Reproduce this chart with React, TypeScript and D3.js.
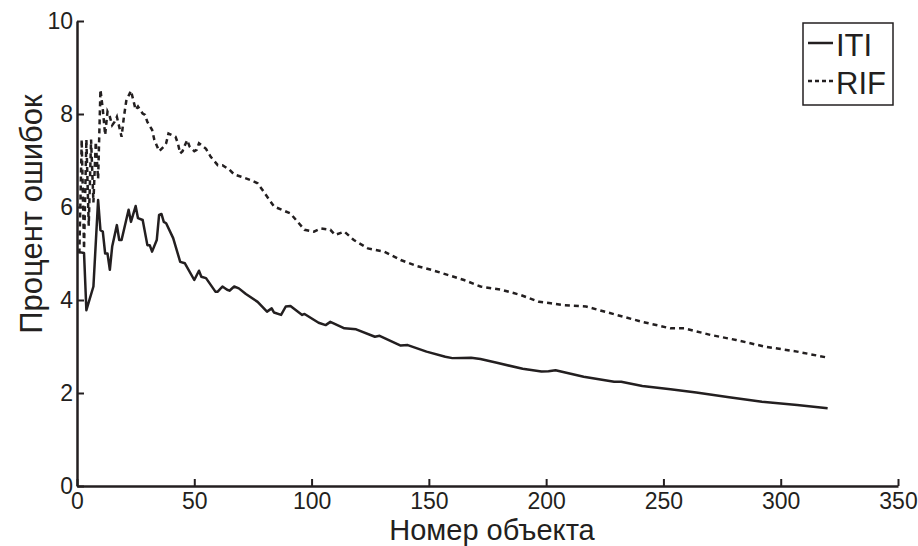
import React, { useEffect, useRef } from 'react';
import * as d3 from 'd3';

// ITI (solid) — object number / error percent
const itiX = [1, 3, 4, 7, 9, 10, 11, 12, 13, 14, 15, 17, 18, 19, 22, 23, 25, 26, 28, 30, 31, 32, 34, 35, 36, 37, 38, 41, 44, 46, 50, 52, 53, 55, 59, 60, 62, 64, 65, 67, 69, 72, 77, 81, 83, 84, 87, 89, 91, 96, 97, 103, 106, 108, 111, 114, 119, 127, 129, 138, 141, 149, 157, 160, 168, 172, 179, 190, 198, 201, 204, 216, 229, 232, 241, 253, 264, 278, 292, 307, 320];
const itiY = [5.03, 5.01, 3.78, 4.29, 6.15, 5.5, 5.47, 5.0, 5.0, 4.65, 5.15, 5.61, 5.29, 5.29, 5.94, 5.68, 6.02, 5.76, 5.72, 5.18, 5.18, 5.04, 5.29, 5.83, 5.85, 5.68, 5.65, 5.33, 4.82, 4.79, 4.43, 4.63, 4.5, 4.47, 4.18, 4.18, 4.29, 4.22, 4.2, 4.29, 4.25, 4.13, 3.96, 3.75, 3.82, 3.73, 3.68, 3.86, 3.87, 3.68, 3.7, 3.51, 3.46, 3.53, 3.46, 3.39, 3.37, 3.21, 3.23, 3.02, 3.03, 2.89, 2.78, 2.75, 2.76, 2.73, 2.65, 2.52, 2.46, 2.47, 2.49, 2.35, 2.24, 2.24, 2.15, 2.08, 2.01, 1.91, 1.81, 1.74, 1.67];

// RIF (dashed)
const rifX = [1, 2, 3, 4, 5, 6, 7, 8, 9, 10, 11, 12, 13, 14, 15, 16, 17, 19, 20, 21, 23, 24, 25, 26, 28, 29, 30, 32, 33, 35, 37, 38, 39, 42, 43, 44, 45, 46, 47, 48, 50, 51, 52, 53, 55, 57, 60, 62, 65, 67, 70, 74, 77, 79, 84, 91, 97, 101, 104, 108, 110, 114, 118, 124, 131, 138, 145, 151, 158, 165, 172, 181, 189, 197, 202, 207, 217, 230, 241, 253, 259, 270, 281, 293, 307, 320];
const rifY = [5.0, 7.45, 5.1, 7.45, 5.6, 7.45, 6.1, 7.4, 6.6, 8.52, 8.1, 7.55, 8.05, 7.94, 7.76, 7.83, 7.94, 7.51, 7.94, 8.28, 8.5, 8.3, 8.09, 8.16, 8.01, 7.98, 7.83, 7.66, 7.44, 7.2, 7.3, 7.37, 7.58, 7.51, 7.37, 7.15, 7.2, 7.33, 7.44, 7.3, 7.2, 7.23, 7.37, 7.33, 7.25, 7.08, 6.9, 6.9, 6.8, 6.7, 6.65, 6.58, 6.51, 6.37, 6.01, 5.86, 5.51, 5.47, 5.54, 5.51, 5.4, 5.47, 5.29, 5.11, 5.04, 4.86, 4.73, 4.65, 4.54, 4.43, 4.29, 4.22, 4.11, 3.96, 3.93, 3.89, 3.86, 3.68, 3.53, 3.39, 3.39, 3.25, 3.14, 3.0, 2.89, 2.76];

const xTicks = [0, 50, 100, 150, 200, 250, 300, 350];
const yTicks = [0, 2, 4, 6, 8, 10];
const seriesNames = ['ITI', 'RIF'];

const INK = '#231f20';
const FONT = '"Liberation Sans", Arial, Helvetica, sans-serif';

const App = () => {
  const svgRef = useRef<SVGSVGElement>(null);

  useEffect(() => {
    document.body.style.margin = '0';
    const svg = d3.select(svgRef.current);
    svg.selectAll('*').remove();

    const width = 918;
    const height = 546;
    const x = d3.scaleLinear().domain([0, 350]).range([77, 898]);
    const y = d3.scaleLinear().domain([0, 10]).range([486, 21]);

    const line = d3.line<[number, number]>()
      .x(d => x(d[0]))
      .y(d => y(d[1]));

    const iti: [number, number][] = itiX.map((v, i) => [v, itiY[i]]);
    const rif: [number, number][] = rifX.map((v, i) => [v, rifY[i]]);

    svg.attr('width', width).attr('height', height);

    svg.append('path')
      .datum(rif)
      .attr('d', line)
      .attr('fill', 'none')
      .attr('stroke', INK)
      .attr('stroke-width', 2.5)
      .attr('stroke-dasharray', '5,4');

    svg.append('path')
      .datum(iti)
      .attr('d', line)
      .attr('fill', 'none')
      .attr('stroke', INK)
      .attr('stroke-width', 2.5)
      .attr('stroke-linejoin', 'round');

    const xAxis = svg.append('g')
      .attr('transform', `translate(0,${y(0)})`)
      .call(d3.axisBottom(x).tickValues(xTicks).tickSizeInner(-7).tickSizeOuter(0).tickPadding(7).tickFormat(d3.format('d')));

    const yAxis = svg.append('g')
      .attr('transform', `translate(${x(0)},0)`)
      .call(d3.axisLeft(y).tickValues(yTicks).tickSizeInner(-7).tickSizeOuter(0).tickPadding(4).tickFormat(d3.format('d')));

    [xAxis, yAxis].forEach(g => {
      g.select('.domain').attr('stroke', INK).attr('stroke-width', 2.5);
      g.selectAll('.tick line').attr('stroke', INK).attr('stroke-width', 2);
      g.selectAll('.tick text')
        .attr('fill', INK)
        .style('font-family', FONT)
        .style('font-size', '23px');
    });

    svg.append('text')
      .attr('x', 492)
      .attr('y', 540)
      .attr('text-anchor', 'middle')
      .attr('fill', INK)
      .style('font-family', FONT)
      .style('font-size', '29px')
      .text('Номер объекта');

    svg.append('text')
      .attr('transform', 'translate(42,214) rotate(-90)')
      .attr('text-anchor', 'middle')
      .attr('fill', INK)
      .style('font-family', FONT)
      .style('font-size', '31px')
      .text('Процент ошибок');

    // legend
    const legend = svg.append('g');
    legend.append('rect')
      .attr('x', 803).attr('y', 23)
      .attr('width', 90).attr('height', 82)
      .attr('fill', 'white')
      .attr('stroke', INK)
      .attr('stroke-width', 1.5);

    seriesNames.forEach((name, i) => {
      const ly = 43 + i * 38;
      legend.append('line')
        .attr('x1', 808).attr('x2', 833)
        .attr('y1', ly).attr('y2', ly)
        .attr('stroke', INK)
        .attr('stroke-width', 2.5)
        .attr('stroke-dasharray', i === 1 ? '4,3' : null);
      legend.append('text')
        .attr('x', 836)
        .attr('y', ly + 12.5)
        .attr('fill', INK)
        .style('font-family', FONT)
        .style('font-size', '31px')
        .text(name);
    });
  }, []);

  return (
    <div style={{ position: 'absolute', left: 0, top: 0 }}>
      <svg ref={svgRef} style={{ display: 'block' }} />
    </div>
  );
};

export default App;
